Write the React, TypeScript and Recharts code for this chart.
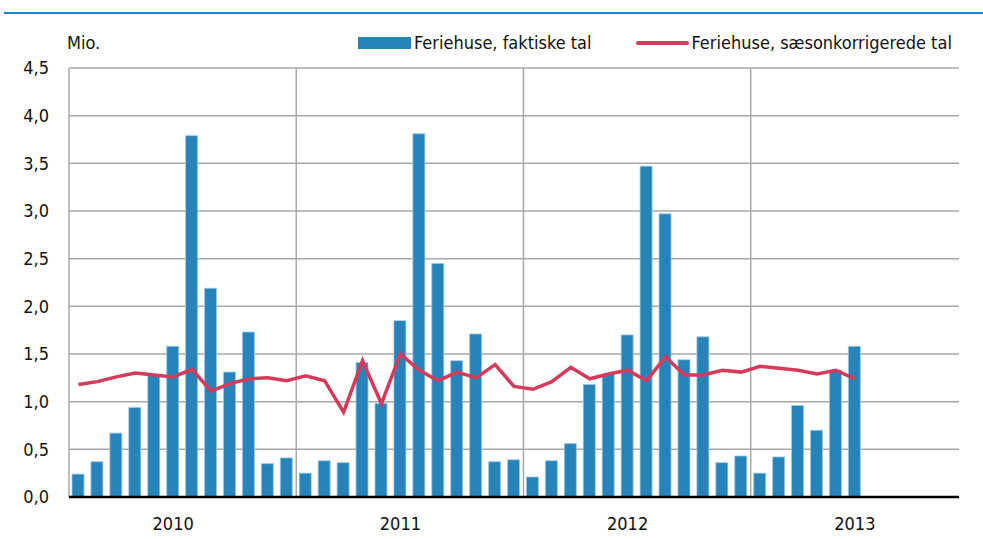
import { ComposedChart, Bar, Line, XAxis, YAxis, CartesianGrid, ReferenceLine } from 'recharts'

// monthly values, Jan 2010 - Jun 2013 (mio.)
const years = ['2010', '2011', '2012', '2013']
const faktiske = [
  0.24, 0.37, 0.67, 0.94, 1.28, 1.58, 3.79, 2.19, 1.31, 1.73, 0.35, 0.41,
  0.25, 0.38, 0.36, 1.41, 0.98, 1.85, 3.81, 2.45, 1.43, 1.71, 0.37, 0.39,
  0.21, 0.38, 0.56, 1.18, 1.29, 1.70, 3.47, 2.97, 1.44, 1.68, 0.36, 0.43,
  0.25, 0.42, 0.96, 0.70, 1.33, 1.58,
]
const saesonkorrigerede = [
  1.18, 1.21, 1.26, 1.30, 1.28, 1.26, 1.34, 1.11, 1.19, 1.24, 1.25, 1.22,
  1.27, 1.22, 0.89, 1.43, 0.98, 1.50, 1.33, 1.22, 1.31, 1.25, 1.39, 1.16,
  1.13, 1.21, 1.36, 1.24, 1.29, 1.33, 1.22, 1.47, 1.28, 1.28, 1.33, 1.31,
  1.37, 1.35, 1.33, 1.29, 1.33, 1.24,
]
const yTicks = [0, 0.5, 1, 1.5, 2, 2.5, 3, 3.5, 4, 4.5]
const yearBreaks = [12, 24, 36]
const monthsOnAxis = 47

const BLUE = '#2684ba'
const RED = '#d63a5a'
const GRID = '#a8a8a8'
const FONT = '"Liberation Sans Narrow", "DejaVu Sans Condensed", "Open Sans", sans-serif'

const data = faktiske.map((v, i) => ({ x: i + 0.5, faktiske: v, saeson: saesonkorrigerede[i] }))

function LegendBox() {
  return (
    <div style={{ position: 'absolute', left: 358, top: 32, display: 'flex', alignItems: 'center', fontSize: 18, color: '#111' }}>
      <span style={{ width: 53, height: 12, background: BLUE, display: 'inline-block', marginRight: 3 }} />
      <span style={{ marginRight: 44 }}>Feriehuse, faktiske tal</span>
      <span style={{ width: 53, height: 4, background: RED, borderRadius: 2, display: 'inline-block', marginRight: 3 }} />
      <span>Feriehuse, sæsonkorrigerede tal</span>
    </div>
  )
}

export default function App() {
  return (
    <div style={{ position: 'absolute', left: 0, top: 0, width: 983, height: 539, background: '#fff', fontFamily: FONT }}>
      <div style={{ position: 'absolute', left: 4, top: 12, width: 979, height: 2, background: '#0a8bd0' }} />
      <div style={{ position: 'absolute', left: 67, top: 32, fontSize: 18, color: '#111' }}>Mio.</div>
      <LegendBox />
      <ComposedChart width={983} height={539} data={data} margin={{ top: 68, right: 24, bottom: 12, left: 0 }}>
        <CartesianGrid vertical={false} stroke={GRID} strokeWidth={1.5} />
        {yearBreaks.map((b) => (
          <ReferenceLine key={b} x={b} stroke={GRID} strokeWidth={1.5} />
        ))}
        <YAxis
          domain={[0, 4.5]}
          ticks={yTicks}
          width={69}
          axisLine={{ stroke: GRID, strokeWidth: 1.5 }}
          tickLine={false}
          tickSize={0}
          tickMargin={20}
          tick={{ fill: '#111', fontSize: 18 }}
          tickFormatter={(v: number) => v.toFixed(1).replace('.', ',')}
        />
        <XAxis
          type="number"
          dataKey="x"
          domain={[0, monthsOnAxis]}
          ticks={[5.5, 17.5, 29.5, 41.5]}
          height={30}
          axisLine={{ stroke: '#000', strokeWidth: 2.5 }}
          tickLine={false}
          tickSize={0}
          tickMargin={20}
          tick={{ fill: '#111', fontSize: 18 }}
          tickFormatter={(v: number) => years[Math.floor(v / 12)]}
        />
        <Bar dataKey="faktiske" fill={BLUE} stroke="#9cc7e2" strokeWidth={0.8} barSize={12} isAnimationActive={false} />
        <Line dataKey="saeson" stroke={RED} strokeWidth={3.5} dot={false} type="linear" isAnimationActive={false} />
      </ComposedChart>
    </div>
  )
}
